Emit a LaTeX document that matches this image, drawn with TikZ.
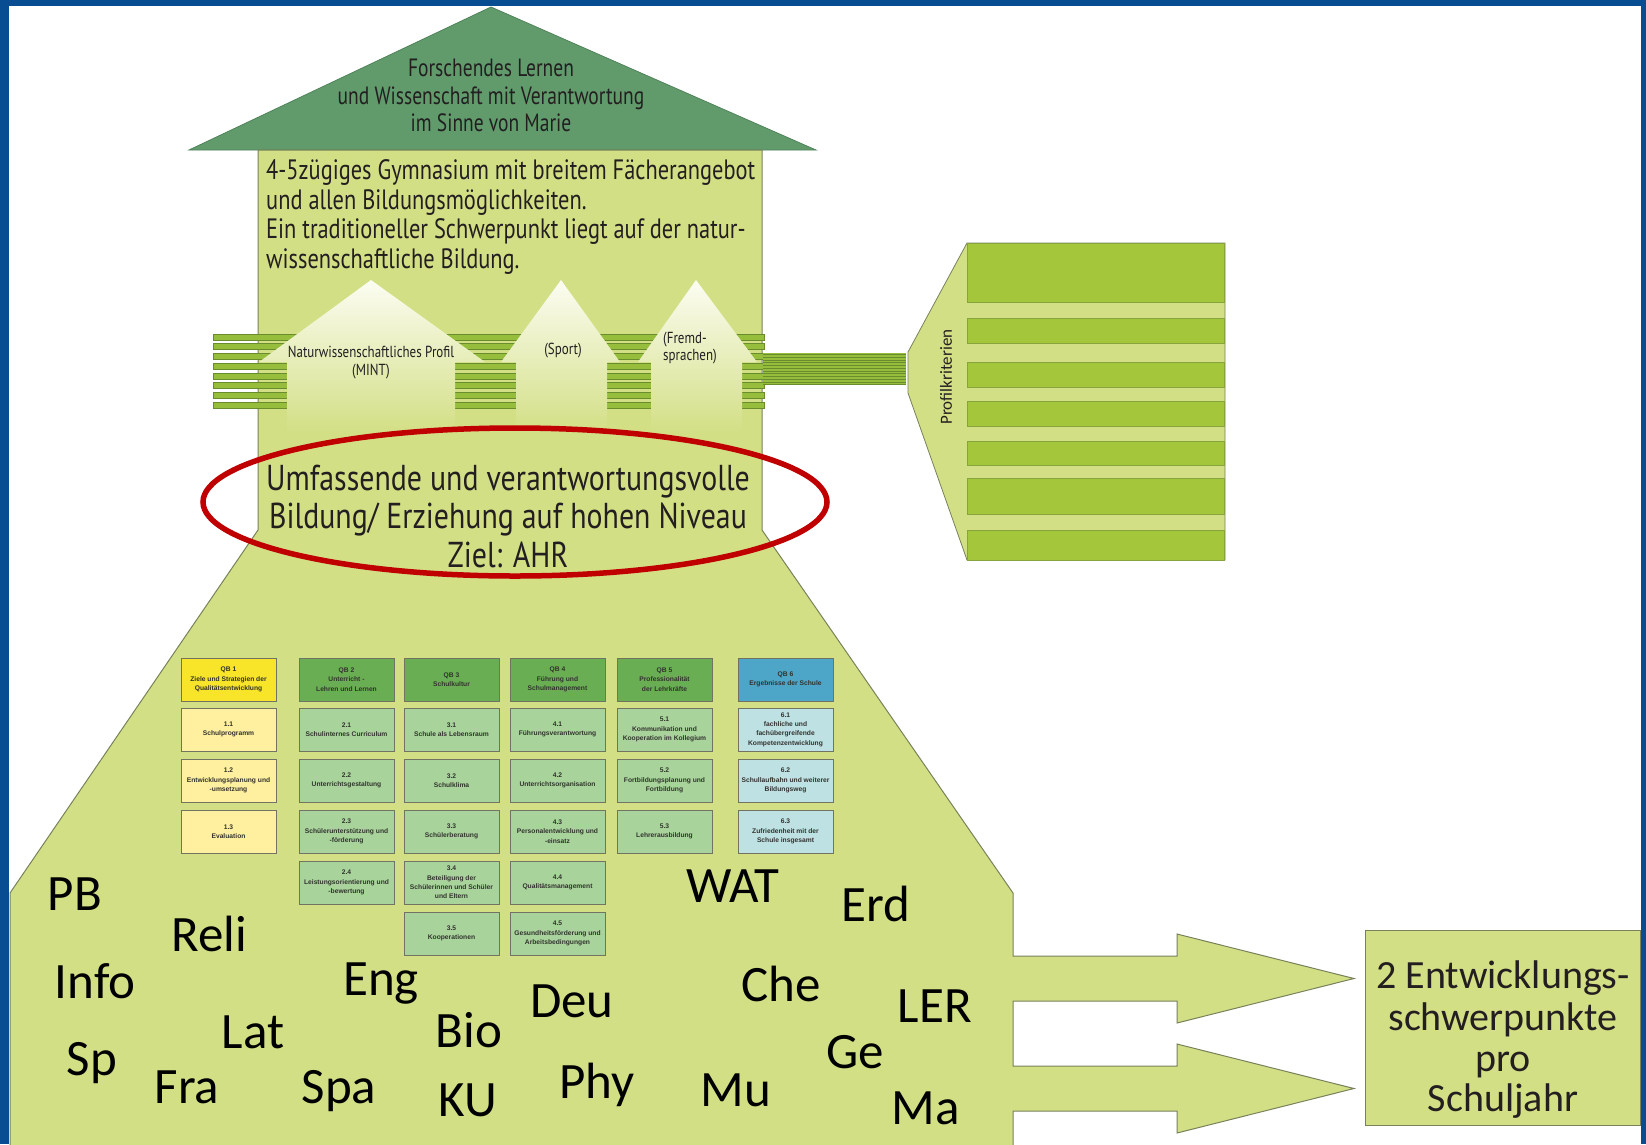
\documentclass[tikz,border=0pt]{standalone}
\usepackage{fontspec}
\setmainfont{Carlito}
\newfontfamily\roofcond[FakeStretch=0.78]{PT Sans}
\newfontfamily\bodycond[FakeStretch=0.80]{PT Sans}
\newfontfamily\ellcond[FakeStretch=0.83]{PT Sans}
\newfontfamily\labcond[FakeStretch=0.81]{PT Sans}
\newfontfamily\qbfont{Liberation Sans}
\newfontfamily\calib{Carlito}
\definecolor{frameblue}{RGB}{8,76,145}
\definecolor{bodyg}{RGB}{211,223,133}
\definecolor{bodyline}{RGB}{120,130,90}
\definecolor{roofg}{RGB}{97,155,108}
\definecolor{roofline}{RGB}{80,130,90}
\definecolor{barg}{RGB}{150,190,60}
\definecolor{bardark}{RGB}{105,140,45}
\definecolor{panelbar}{RGB}{163,198,58}
\definecolor{panelline}{RGB}{135,165,60}
\definecolor{housetop}{RGB}{252,253,242}
\definecolor{ellred}{RGB}{192,0,0}
\definecolor{txt}{RGB}{35,31,32}
\definecolor{qbborder}{RGB}{115,115,100}
\definecolor{qbtext}{RGB}{50,50,45}
\definecolor{qbyh}{RGB}{248,228,40}
\definecolor{qbyi}{RGB}{255,240,160}
\definecolor{qbgh}{RGB}{106,174,84}
\definecolor{qbgi}{RGB}{168,212,156}
\definecolor{qbbh}{RGB}{77,166,199}
\definecolor{qbbi}{RGB}{190,225,228}
\tikzset{
  qbbox/.style={draw=qbborder, line width=0.9pt, minimum width=95pt, minimum height=43pt,
    inner sep=0pt, align=center, text=qbtext,
    font=\qbfont\bfseries\fontsize{6.7}{9.4}\selectfont},
  qbyhead/.style={qbbox, fill=qbyh},
  qbyitem/.style={qbbox, fill=qbyi},
  qbghead/.style={qbbox, fill=qbgh},
  qbgitem/.style={qbbox, fill=qbgi},
  qbbhead/.style={qbbox, fill=qbbh},
  qbbitem/.style={qbbox, fill=qbbi},
  rooftext/.style={anchor=base, text=txt, inner sep=0pt, font=\roofcond\fontsize{25}{25}\selectfont},
  bodytext/.style={anchor=base west, text=txt, inner sep=0pt, font=\bodycond\fontsize{28}{28}\selectfont},
  elltext/.style={anchor=base, text=txt, inner sep=0pt, font=\ellcond\fontsize{36}{36}\selectfont},
  labtext/.style={text=txt, inner sep=0pt, font=\labcond\fontsize{16}{16}\selectfont},
  subj/.style={anchor=base, text=black, inner sep=0pt, font=\calib\fontsize{51}{51}\selectfont},
  goaltext/.style={anchor=base, text=txt, inner sep=0pt, font=\calib\fontsize{40}{40}\selectfont},
  housebar/.style={fill=barg, draw=bardark, line width=0.6pt},
  housefade/.style={top color=housetop, bottom color=bodyg},
  panelstripe/.style={fill=panelbar, draw=panelline, line width=0.6pt}
}
\begin{document}
\begin{tikzpicture}[x=1pt,y=-1pt]
\useasboundingbox (0,0) rectangle (1646,1144);
\fill[white] (0,0) rectangle (1646,1144);

% roof
\draw[roofline, fill=roofg, line width=0.8pt] (491,7) -- (816,150) -- (189,150) -- cycle;
\node[rooftext] (r1) at (491,76) {Forschendes Lernen};
\node[rooftext] (r2) at (491,104) {und Wissenschaft mit Verantwortung};
\node[rooftext] (r3) at (491,131) {im Sinne von Marie};

% main body with trapezoid and arrows
\draw[bodyline, fill=bodyg, line width=1pt]
  (258,150) -- (762,150) -- (762,530) -- (1013,893) -- (1013,956) -- (1177,956) -- (1177,934)
  -- (1354,978.5) -- (1177,1023) -- (1177,1001) -- (1013,1001) -- (1013,1066) -- (1177,1066)
  -- (1177,1044) -- (1354,1088.5) -- (1177,1133) -- (1177,1111) -- (1013,1111) -- (1013,1150)
  -- (10,1150) -- (10,893) -- (258,530) -- cycle;

\node[bodytext] (b1) at (266,179.5) {4-5zügiges Gymnasium mit breitem Fächerangebot};
\node[bodytext] (b2) at (266,209) {und allen Bildungsmöglichkeiten.};
\node[bodytext] (b3) at (266,238.5) {Ein traditioneller Schwerpunkt liegt auf der natur-};
\node[bodytext] (b4) at (266,268) {wissenschaftliche Bildung.};

% stripes
\foreach \i in {0,...,7}
  \draw[housebar] (213,{334+9.7*\i}) rectangle (764,{340+9.7*\i});
\fill[barg] (763,353) rectangle (906,385);
\foreach \k in {0,...,11}
  \draw[bardark, line width=0.7pt] (763,{354.5+2.75*\k}) -- (906,{354.5+2.75*\k});

% profile houses
\shade[housefade] (371,280) -- (485,362) -- (455,362) -- (455,432) -- (287,432) -- (287,362) -- (259,362) -- cycle;
\shade[housefade] (561,280) -- (620,362) -- (607,362) -- (607,432) -- (516,432) -- (516,362) -- (501,362) -- cycle;
\shade[housefade] (696,280) -- (757,362) -- (742,362) -- (742,432) -- (651,432) -- (651,362) -- (638,362) -- cycle;
\node[labtext, anchor=base] (h1a) at (371,357) {Naturwissenschaftliches Profil};
\node[labtext, anchor=base] (h1b) at (371,375) {(MINT)};
\node[labtext, anchor=base] (h2) at (563,354) {(Sport)};
\node[labtext, anchor=base west] (h3a) at (663,343) {(Fremd-};
\node[labtext, anchor=base west] (h3b) at (663,360) {sprachen)};

% Profilkriterien funnel and panel
\draw[bodyline, fill=bodyg, line width=0.8pt] (908,352) -- (967,243) -- (1225,243) -- (1225,560) -- (967,560) -- (908,393) -- cycle;
\draw[panelstripe] (967,243) rectangle (1224,302);
\draw[panelstripe] (967,318) rectangle (1224,343);
\draw[panelstripe] (967,362) rectangle (1224,387);
\draw[panelstripe] (967,401) rectangle (1224,426);
\draw[panelstripe] (967,441) rectangle (1224,465);
\draw[panelstripe] (967,478) rectangle (1224,514);
\draw[panelstripe] (967,530) rectangle (1224,560);
\node[rotate=90, text=txt, inner sep=0pt, font=\calib\fontsize{17}{17}\selectfont] (pk) at (946,377) {Profilkriterien};

% ellipse
\draw[ellred, line width=5.5pt] (515,502) ellipse [x radius=312, y radius=74];
\node[elltext] (e1) at (508,490) {Umfassende und verantwortungsvolle};
\node[elltext] (e2) at (508,528) {Bildung/ Erziehung auf hohen Niveau};
\node[elltext] (e3) at (508,567) {Ziel: AHR};

% QB table
\node[qbyhead] (qb1) at (228.5,679.5) {QB 1\\Ziele und Strategien der\\Qualitätsentwicklung};
\node[qbyitem] (q11) at (228.5,729.5) {1.1\\Schulprogramm};
\node[qbyitem] (q12) at (228.5,780.5) {1.2\\Entwicklungsplanung und\\-umsetzung};
\node[qbyitem] (q13) at (228.5,831.5) {1.3\\Evaluation};

\node[qbghead] (qb2) at (346.5,679.5) {QB 2\\Unterricht -\\Lehren und Lernen};
\node[qbgitem] (q21) at (346.5,729.5) {2.1\\Schulinternes Curriculum};
\node[qbgitem] (q22) at (346.5,780.5) {2.2\\Unterrichtsgestaltung};
\node[qbgitem] (q23) at (346.5,831.5) {2.3\\Schülerunterstützung und\\-förderung};
\node[qbgitem] (q24) at (346.5,882.5) {2.4\\Leistungsorientierung und\\-bewertung};

\node[qbghead] (qb3) at (451.5,679.5) {QB 3\\Schulkultur};
\node[qbgitem] (q31) at (451.5,729.5) {3.1\\Schule als Lebensraum};
\node[qbgitem] (q32) at (451.5,780.5) {3.2\\Schulklima};
\node[qbgitem] (q33) at (451.5,831.5) {3.3\\Schülerberatung};
\node[qbgitem] (q34) at (451.5,882.5) {3.4\\Beteiligung der\\Schülerinnen und Schüler\\und Eltern};
\node[qbgitem] (q35) at (451.5,933.5) {3.5\\Kooperationen};

\node[qbghead] (qb4) at (557.5,679.5) {QB 4\\Führung und\\Schulmanagement};
\node[qbgitem] (q41) at (557.5,729.5) {4.1\\Führungsverantwortung};
\node[qbgitem] (q42) at (557.5,780.5) {4.2\\Unterrichtsorganisation};
\node[qbgitem] (q43) at (557.5,831.5) {4.3\\Personalentwicklung und\\-einsatz};
\node[qbgitem] (q44) at (557.5,882.5) {4.4\\Qualitätsmanagement};
\node[qbgitem] (q45) at (557.5,933.5) {4.5\\Gesundheitsförderung und\\Arbeitsbedingungen};

\node[qbghead] (qb5) at (664.5,679.5) {QB 5\\Professionalität\\der Lehrkräfte};
\node[qbgitem] (q51) at (664.5,729.5) {5.1\\Kommunikation und\\Kooperation im Kollegium};
\node[qbgitem] (q52) at (664.5,780.5) {5.2\\Fortbildungsplanung und\\Fortbildung};
\node[qbgitem] (q53) at (664.5,831.5) {5.3\\Lehrerausbildung};

\node[qbbhead] (qb6) at (785.5,679.5) {QB 6\\Ergebnisse der Schule};
\node[qbbitem] (q61) at (785.5,729.5) {6.1\\fachliche und\\fachübergreifende\\Kompetenzentwicklung};
\node[qbbitem] (q62) at (785.5,780.5) {6.2\\Schullaufbahn und weiterer\\Bildungsweg};
\node[qbbitem] (q63) at (785.5,831.5) {6.3\\Zufriedenheit mit der\\Schule insgesamt};

% subjects
\node[subj] (sPB) at (75,910) {PB};
\node[subj] (sReli) at (209,951) {Reli};
\node[subj] (sInfo) at (95,998) {Info};
\node[subj] (sEng) at (381,995) {Eng};
\node[subj] (sLat) at (253,1048) {Lat};
\node[subj] (sSp) at (92,1075) {Sp};
\node[subj] (sFra) at (187,1103) {Fra};
\node[subj] (sSpa) at (339,1103) {Spa};
\node[subj] (sBio) at (469,1047) {Bio};
\node[subj] (sKU) at (468,1116) {KU};
\node[subj] (sDeu) at (572,1017) {Deu};
\node[subj] (sPhy) at (597,1098) {Phy};
\node[subj] (sWAT) at (733,902) {WAT};
\node[subj] (sErd) at (876,921) {Erd};
\node[subj] (sChe) at (781,1001) {Che};
\node[subj] (sLER) at (935,1022) {LER};
\node[subj] (sGe) at (855,1068) {Ge};
\node[subj] (sMu) at (736,1106) {Mu};
\node[subj] (sMa) at (926,1124) {Ma};

% goal box
\node[draw=bodyline, fill=bodyg, line width=1pt, minimum width=275pt, minimum height=195pt, inner sep=0pt] (goal) at (1502.5,1027.5) {};
\node[goaltext] (g1) at (1503,988) {2 Entwicklungs-};
\node[goaltext] (g2) at (1503,1030) {schwerpunkte};
\node[goaltext] (g3) at (1503,1071) {pro};
\node[goaltext] (g4) at (1503,1111) {Schuljahr};

% blue frame
\fill[frameblue] (0,0) rectangle (9,1144);
\fill[frameblue] (0,0) rectangle (1646,6);
\fill[frameblue] (1641,0) rectangle (1646,1144);
\end{tikzpicture}
\end{document}
